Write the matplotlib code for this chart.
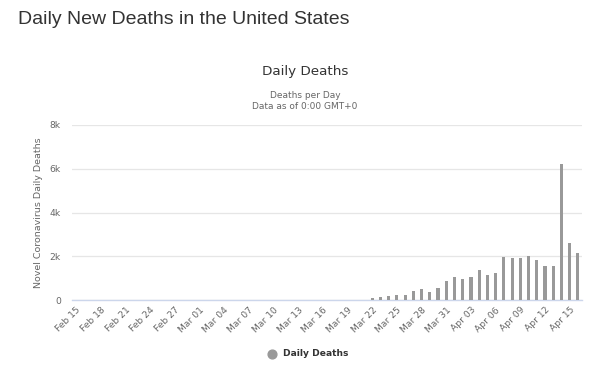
import datetime as dt
import matplotlib
matplotlib.use("Agg")
import matplotlib.pyplot as plt

# ----------------------------------------------------------
# Data: daily new deaths, Feb 15 - Apr 16
# ----------------------------------------------------------
start = dt.date(2020, 2, 15)
n_days = 62
dates = [start + dt.timedelta(days=i) for i in range(n_days)]
date_labels = [d.strftime("%b %d") for d in dates]

# Mar 22 .. Apr 16; everything earlier is too small to see
late_deaths = [
    95, 140, 200, 235, 235, 400, 510, 360, 560, 885,
    1040, 960, 1040, 1350, 1150, 1255, 1985, 1940, 1905, 2015,
    1830, 1535, 1535, 6230, 2620, 2170,
]
deaths = [0] * (n_days - len(late_deaths)) + late_deaths

y_ticks = [0, 2000, 4000, 6000, 8000]
y_tick_labels = ["0", "2k", "4k", "6k", "8k"]

# ----------------------------------------------------------
# Figure
# ----------------------------------------------------------
fig = plt.figure(figsize=(6.0, 3.77), dpi=100)
fig.patch.set_facecolor("white")

W, H = 600, 377
left, right, top, bottom = 72, 582, 125, 300
ax = fig.add_axes([left / W, 1 - bottom / H, (right - left) / W, (bottom - top) / H])

fig.text(18 / W, 1 - 20 / H, "Daily New Deaths in the United States",
         fontsize=14, color="#333333", family="Liberation Sans",
         ha="left", va="center")
fig.text(305 / W, 1 - 71 / H, "Daily Deaths", fontsize=9.7, color="#333333",
         family="DejaVu Sans", ha="center", va="center")
fig.text(305 / W, 1 - 95 / H, "Deaths per Day", fontsize=6.5, color="#666666",
         family="DejaVu Sans", ha="center", va="center")
fig.text(305 / W, 1 - 107 / H, "Data as of 0:00 GMT+0", fontsize=6.5,
         color="#666666", family="DejaVu Sans", ha="center", va="center")

x = list(range(n_days))
ax.bar(x, deaths, width=0.38, color="#999999", zorder=3)

ax.set_xlim(-0.5, n_days - 0.5)
ax.set_ylim(0, 8000)
ax.set_yticks(y_ticks)
ax.set_yticklabels(y_tick_labels)
ax.set_xticks(x[::3])
ax.set_xticklabels(date_labels[::3], rotation=45, ha="right",
                   rotation_mode="anchor")

for s in ["top", "right", "left"]:
    ax.spines[s].set_visible(False)
ax.spines["bottom"].set_color("#ccd6eb")
ax.spines["bottom"].set_linewidth(1.0)

ax.grid(axis="y", color="#e6e6e6", linewidth=0.9, zorder=0)
ax.tick_params(axis="y", length=0, pad=8, labelsize=6.6, labelcolor="#666666")
ax.tick_params(axis="x", length=0, pad=4, labelsize=6.6, labelcolor="#666666")
for lbl in ax.get_xticklabels() + ax.get_yticklabels():
    lbl.set_family("DejaVu Sans")

ax.set_ylabel("Novel Coronavirus Daily Deaths", fontsize=6.8, color="#666666",
              family="DejaVu Sans", labelpad=5)

# legend
ax.scatter([], [], s=40, color="#999999", label="Daily Deaths")
leg = fig.legend(loc="center", bbox_to_anchor=(306 / W, 1 - 354 / H),
                 frameon=False, handletextpad=0.2, borderaxespad=0,
                 prop={"family": "DejaVu Sans", "size": 6.6, "weight": "bold"})
for t in leg.get_texts():
    t.set_color("#333333")

fig.savefig("out.png", dpi=100, facecolor="white")
